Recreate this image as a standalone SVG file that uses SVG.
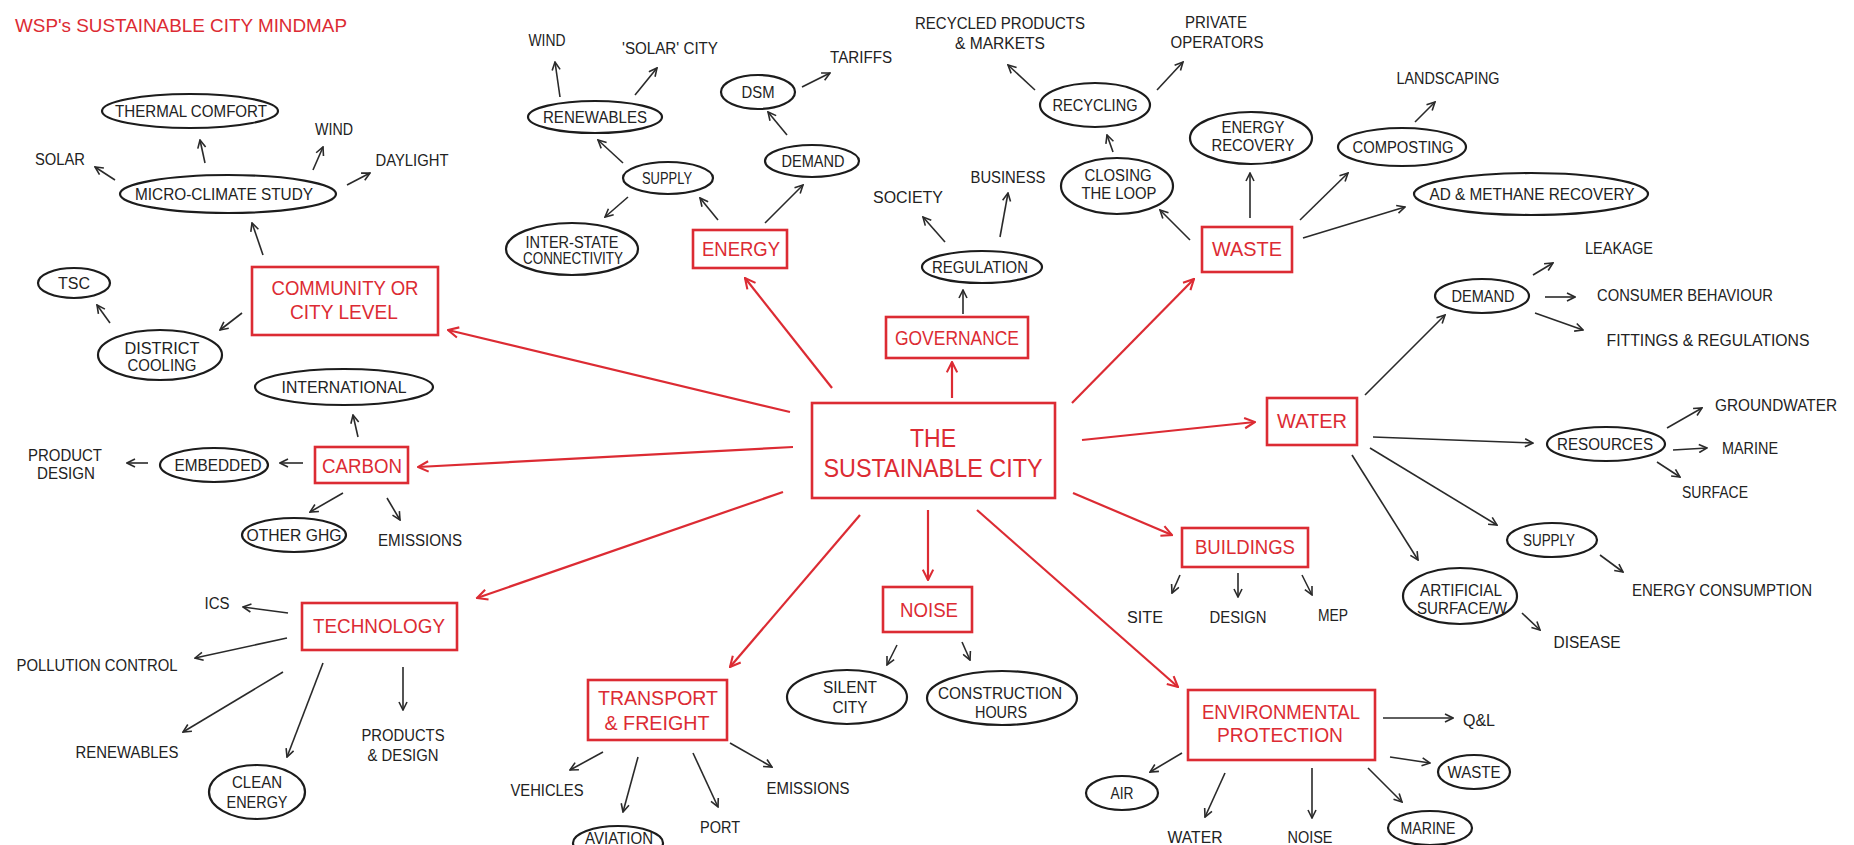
<svg xmlns="http://www.w3.org/2000/svg" width="1854" height="845" viewBox="0 0 1854 845">
<defs>
<style>
.t{font-family:"Liberation Sans",Arial,sans-serif;font-size:16px;fill:#222;text-anchor:middle}
.rt{font-family:"Liberation Sans",Arial,sans-serif;font-size:20px;fill:#dc2b33;text-anchor:middle}
.e{fill:none;stroke:#1c1c1c;stroke-width:2.2}
.b{fill:none;stroke:#dc2b33;stroke-width:2.6}
.k line{stroke:#2a2a2a;stroke-width:1.6;marker-end:url(#ak)}
.r line{stroke:#dc2b33;stroke-width:2.2;marker-end:url(#ar)}
</style>
<marker id="ak" viewBox="0 0 10 10" refX="9" refY="5" markerWidth="10" markerHeight="10" markerUnits="userSpaceOnUse" orient="auto"><path d="M1,1 L9,5 L1,9" fill="none" stroke="#2a2a2a" stroke-width="1.6"/></marker>
<marker id="ar" viewBox="0 0 10 10" refX="9" refY="5" markerWidth="13" markerHeight="13" markerUnits="userSpaceOnUse" orient="auto"><path d="M1,1 L9,5 L1,9" fill="none" stroke="#dc2b33" stroke-width="1.6"/></marker>
</defs>
<rect width="1854" height="845" fill="#fff"/>
<text x="15" y="32" style="font-family:'Liberation Sans',Arial,sans-serif;font-size:18px;fill:#dc2b33" textLength="332" lengthAdjust="spacingAndGlyphs">WSP's SUSTAINABLE CITY MINDMAP</text>

<g id="connectors">
<g class="k">
<line x1="263" y1="255" x2="252" y2="223"/>
<line x1="205" y1="163" x2="200" y2="140"/>
<line x1="115" y1="180" x2="95" y2="167"/>
<line x1="313" y1="170" x2="323" y2="147"/>
<line x1="347" y1="185" x2="370" y2="173"/>
<line x1="242" y1="313" x2="220" y2="330"/>
<line x1="110" y1="323" x2="97" y2="305"/>
<line x1="358" y1="437" x2="353" y2="415"/>
<line x1="303" y1="463" x2="280" y2="463"/>
<line x1="148" y1="463" x2="127" y2="463"/>
<line x1="343" y1="493" x2="310" y2="512"/>
<line x1="387" y1="498" x2="400" y2="520"/>
<line x1="288" y1="613" x2="243" y2="607"/>
<line x1="287" y1="638" x2="195" y2="658"/>
<line x1="283" y1="672" x2="183" y2="732"/>
<line x1="323" y1="663" x2="287" y2="757"/>
<line x1="403" y1="667" x2="403" y2="710"/>
<line x1="718" y1="220" x2="700" y2="198"/>
<line x1="765" y1="223" x2="803" y2="185"/>
<line x1="623" y1="163" x2="598" y2="140"/>
<line x1="628" y1="197" x2="605" y2="217"/>
<line x1="560" y1="97" x2="555" y2="62"/>
<line x1="635" y1="95" x2="657" y2="68"/>
<line x1="787" y1="135" x2="768" y2="112"/>
<line x1="802" y1="87" x2="830" y2="73"/>
<line x1="963" y1="314" x2="963" y2="290"/>
<line x1="945" y1="242" x2="923" y2="217"/>
<line x1="1000" y1="237" x2="1008" y2="193"/>
<line x1="1190" y1="240" x2="1160" y2="210"/>
<line x1="1113" y1="152" x2="1107" y2="135"/>
<line x1="1035" y1="90" x2="1008" y2="65"/>
<line x1="1157" y1="90" x2="1183" y2="62"/>
<line x1="1250" y1="218" x2="1250" y2="173"/>
<line x1="1300" y1="220" x2="1348" y2="173"/>
<line x1="1415" y1="122" x2="1435" y2="102"/>
<line x1="1303" y1="238" x2="1405" y2="207"/>
<line x1="1365" y1="395" x2="1445" y2="315"/>
<line x1="1373" y1="437" x2="1533" y2="443"/>
<line x1="1370" y1="448" x2="1497" y2="525"/>
<line x1="1352" y1="455" x2="1418" y2="560"/>
<line x1="1533" y1="275" x2="1553" y2="263"/>
<line x1="1545" y1="297" x2="1575" y2="297"/>
<line x1="1535" y1="313" x2="1583" y2="330"/>
<line x1="1667" y1="428" x2="1702" y2="408"/>
<line x1="1673" y1="450" x2="1707" y2="448"/>
<line x1="1657" y1="462" x2="1680" y2="477"/>
<line x1="1600" y1="555" x2="1623" y2="572"/>
<line x1="1522" y1="613" x2="1540" y2="630"/>
<line x1="1180" y1="575" x2="1172" y2="593"/>
<line x1="1238" y1="573" x2="1238" y2="597"/>
<line x1="1302" y1="575" x2="1312" y2="595"/>
<line x1="897" y1="645" x2="887" y2="665"/>
<line x1="962" y1="642" x2="970" y2="660"/>
<line x1="603" y1="752" x2="570" y2="770"/>
<line x1="638" y1="757" x2="623" y2="812"/>
<line x1="693" y1="753" x2="718" y2="807"/>
<line x1="730" y1="743" x2="772" y2="767"/>
<line x1="1182" y1="753" x2="1150" y2="772"/>
<line x1="1225" y1="773" x2="1205" y2="817"/>
<line x1="1312" y1="768" x2="1312" y2="818"/>
<line x1="1368" y1="768" x2="1402" y2="802"/>
<line x1="1383" y1="718" x2="1453" y2="718"/>
<line x1="1390" y1="757" x2="1430" y2="763"/>
</g>
<g class="r">
<line x1="790" y1="412" x2="448" y2="330"/>
<line x1="793" y1="447" x2="418" y2="467"/>
<line x1="783" y1="492" x2="477" y2="598"/>
<line x1="832" y1="388" x2="745" y2="278"/>
<line x1="952" y1="398" x2="952" y2="362"/>
<line x1="1072" y1="403" x2="1194" y2="279"/>
<line x1="1082" y1="440" x2="1255" y2="422"/>
<line x1="1073" y1="493" x2="1172" y2="535"/>
<line x1="977" y1="510" x2="1178" y2="687"/>
<line x1="928" y1="510" x2="928" y2="580"/>
<line x1="860" y1="515" x2="730" y2="667"/>
</g>
</g>

<g id="center"><rect class="b" x="812" y="403" width="243" height="95"/><text class="rt" style="font-size:25px" x="933" y="447" textLength="46" lengthAdjust="spacingAndGlyphs">THE</text><text class="rt" style="font-size:25px" x="933" y="477" textLength="219" lengthAdjust="spacingAndGlyphs">SUSTAINABLE CITY</text></g>

<g id="community"><rect class="b" x="252" y="267" width="186" height="68"/><text class="rt" x="345" y="295" textLength="147" lengthAdjust="spacingAndGlyphs">COMMUNITY OR</text><text class="rt" x="344" y="319" textLength="108" lengthAdjust="spacingAndGlyphs">CITY LEVEL</text></g>
<g id="thermal"><ellipse class="e" cx="190" cy="111" rx="88" ry="17"/><text class="t" x="191" y="117" textLength="152" lengthAdjust="spacingAndGlyphs">THERMAL COMFORT</text></g>
<g id="micro"><ellipse class="e" cx="228" cy="194" rx="108" ry="19"/><text class="t" x="224" y="200" textLength="178" lengthAdjust="spacingAndGlyphs">MICRO-CLIMATE STUDY</text></g>
<g id="solar"><text class="t" x="60" y="165" textLength="50" lengthAdjust="spacingAndGlyphs">SOLAR</text></g>
<g id="wind1"><text class="t" x="334" y="135" textLength="38" lengthAdjust="spacingAndGlyphs">WIND</text></g>
<g id="daylight"><text class="t" x="412" y="166" textLength="73" lengthAdjust="spacingAndGlyphs">DAYLIGHT</text></g>
<g id="tsc"><ellipse class="e" cx="74" cy="283" rx="36" ry="15"/><text class="t" x="74" y="289" textLength="32" lengthAdjust="spacingAndGlyphs">TSC</text></g>
<g id="district"><ellipse class="e" cx="160" cy="355" rx="62" ry="25"/><text class="t" x="162" y="354" textLength="75" lengthAdjust="spacingAndGlyphs">DISTRICT</text><text class="t" x="162" y="371" textLength="69" lengthAdjust="spacingAndGlyphs">COOLING</text></g>

<g id="carbon"><rect class="b" x="315" y="447" width="93" height="36"/><text class="rt" x="362" y="473" textLength="80" lengthAdjust="spacingAndGlyphs">CARBON</text></g>
<g id="international"><ellipse class="e" cx="344" cy="387" rx="89" ry="18"/><text class="t" x="344" y="393" textLength="125" lengthAdjust="spacingAndGlyphs">INTERNATIONAL</text></g>
<g id="embedded"><ellipse class="e" cx="214" cy="465" rx="54" ry="17"/><text class="t" x="218" y="471" textLength="87" lengthAdjust="spacingAndGlyphs">EMBEDDED</text></g>
<g id="productdesign"><text class="t" x="65" y="461" textLength="74" lengthAdjust="spacingAndGlyphs">PRODUCT</text><text class="t" x="66" y="479" textLength="58" lengthAdjust="spacingAndGlyphs">DESIGN</text></g>
<g id="otherghg"><ellipse class="e" cx="294" cy="535" rx="52" ry="17"/><text class="t" x="294" y="541" textLength="95" lengthAdjust="spacingAndGlyphs">OTHER GHG</text></g>
<g id="emissions1"><text class="t" x="420" y="546" textLength="84" lengthAdjust="spacingAndGlyphs">EMISSIONS</text></g>

<g id="technology"><rect class="b" x="302" y="603" width="155" height="47"/><text class="rt" x="379" y="633" textLength="132" lengthAdjust="spacingAndGlyphs">TECHNOLOGY</text></g>
<g id="ics"><text class="t" x="217" y="609" textLength="25" lengthAdjust="spacingAndGlyphs">ICS</text></g>
<g id="pollution"><text class="t" x="97" y="671" textLength="161" lengthAdjust="spacingAndGlyphs">POLLUTION CONTROL</text></g>
<g id="renewables2"><text class="t" x="127" y="758" textLength="103" lengthAdjust="spacingAndGlyphs">RENEWABLES</text></g>
<g id="cleanenergy"><ellipse class="e" cx="257" cy="792" rx="48" ry="27"/><text class="t" x="257" y="788" textLength="50" lengthAdjust="spacingAndGlyphs">CLEAN</text><text class="t" x="257" y="808" textLength="61" lengthAdjust="spacingAndGlyphs">ENERGY</text></g>
<g id="productsdesign"><text class="t" x="403" y="741" textLength="83" lengthAdjust="spacingAndGlyphs">PRODUCTS</text><text class="t" x="403" y="761" textLength="71" lengthAdjust="spacingAndGlyphs">&amp; DESIGN</text></g>

<g id="energy"><rect class="b" x="693" y="230" width="94" height="38"/><text class="rt" x="741" y="256" textLength="78" lengthAdjust="spacingAndGlyphs">ENERGY</text></g>
<g id="supply1"><ellipse class="e" cx="668" cy="178" rx="45" ry="16"/><text class="t" x="667" y="184" textLength="50" lengthAdjust="spacingAndGlyphs">SUPPLY</text></g>
<g id="demand1"><ellipse class="e" cx="812" cy="161" rx="47" ry="16"/><text class="t" x="813" y="167" textLength="63" lengthAdjust="spacingAndGlyphs">DEMAND</text></g>
<g id="renewables1"><ellipse class="e" cx="595" cy="117" rx="67" ry="16"/><text class="t" x="595" y="123" textLength="104" lengthAdjust="spacingAndGlyphs">RENEWABLES</text></g>
<g id="interstate"><ellipse class="e" cx="572" cy="249" rx="66" ry="26"/><text class="t" x="572" y="248" textLength="93" lengthAdjust="spacingAndGlyphs">INTER-STATE</text><text class="t" x="573" y="264" textLength="100" lengthAdjust="spacingAndGlyphs">CONNECTIVITY</text></g>
<g id="wind2"><text class="t" x="547" y="46" textLength="37" lengthAdjust="spacingAndGlyphs">WIND</text></g>
<g id="solarcity"><text class="t" x="670" y="54" textLength="96" lengthAdjust="spacingAndGlyphs">'SOLAR' CITY</text></g>
<g id="dsm"><ellipse class="e" cx="758" cy="92" rx="37" ry="17"/><text class="t" x="758" y="98" textLength="33" lengthAdjust="spacingAndGlyphs">DSM</text></g>
<g id="tariffs"><text class="t" x="861" y="63" textLength="62" lengthAdjust="spacingAndGlyphs">TARIFFS</text></g>

<g id="governance"><rect class="b" x="886" y="317" width="142" height="41"/><text class="rt" x="957" y="345" textLength="124" lengthAdjust="spacingAndGlyphs">GOVERNANCE</text></g>
<g id="regulation"><ellipse class="e" cx="982" cy="267" rx="60" ry="16"/><text class="t" x="980" y="273" textLength="96" lengthAdjust="spacingAndGlyphs">REGULATION</text></g>
<g id="society"><text class="t" x="908" y="203" textLength="70" lengthAdjust="spacingAndGlyphs">SOCIETY</text></g>
<g id="business"><text class="t" x="1008" y="183" textLength="75" lengthAdjust="spacingAndGlyphs">BUSINESS</text></g>

<g id="waste"><rect class="b" x="1202" y="227" width="90" height="45"/><text class="rt" x="1247" y="256" textLength="70" lengthAdjust="spacingAndGlyphs">WASTE</text></g>
<g id="closingloop"><ellipse class="e" cx="1117" cy="186" rx="56" ry="28"/><text class="t" x="1118" y="181" textLength="67" lengthAdjust="spacingAndGlyphs">CLOSING</text><text class="t" x="1119" y="199" textLength="75" lengthAdjust="spacingAndGlyphs">THE LOOP</text></g>
<g id="recycling"><ellipse class="e" cx="1095" cy="105" rx="55" ry="22"/><text class="t" x="1095" y="111" textLength="85" lengthAdjust="spacingAndGlyphs">RECYCLING</text></g>
<g id="recycledproducts"><text class="t" x="1000" y="29" textLength="170" lengthAdjust="spacingAndGlyphs">RECYCLED PRODUCTS</text><text class="t" x="1000" y="49" textLength="90" lengthAdjust="spacingAndGlyphs">&amp; MARKETS</text></g>
<g id="privateops"><text class="t" x="1216" y="28" textLength="62" lengthAdjust="spacingAndGlyphs">PRIVATE</text><text class="t" x="1217" y="48" textLength="93" lengthAdjust="spacingAndGlyphs">OPERATORS</text></g>
<g id="energyrecovery"><ellipse class="e" cx="1251" cy="138" rx="61" ry="26"/><text class="t" x="1253" y="133" textLength="63" lengthAdjust="spacingAndGlyphs">ENERGY</text><text class="t" x="1253" y="151" textLength="83" lengthAdjust="spacingAndGlyphs">RECOVERY</text></g>
<g id="composting"><ellipse class="e" cx="1402" cy="147" rx="64" ry="19"/><text class="t" x="1403" y="153" textLength="101" lengthAdjust="spacingAndGlyphs">COMPOSTING</text></g>
<g id="landscaping"><text class="t" x="1448" y="84" textLength="103" lengthAdjust="spacingAndGlyphs">LANDSCAPING</text></g>
<g id="admethane"><ellipse class="e" cx="1531" cy="194" rx="117" ry="21"/><text class="t" x="1532" y="200" textLength="205" lengthAdjust="spacingAndGlyphs">AD &amp; METHANE RECOVERY</text></g>

<g id="water"><rect class="b" x="1267" y="398" width="90" height="47"/><text class="rt" x="1312" y="428" textLength="70" lengthAdjust="spacingAndGlyphs">WATER</text></g>
<g id="demand2"><ellipse class="e" cx="1482" cy="296" rx="47" ry="17"/><text class="t" x="1483" y="302" textLength="63" lengthAdjust="spacingAndGlyphs">DEMAND</text></g>
<g id="leakage"><text class="t" x="1619" y="254" textLength="68" lengthAdjust="spacingAndGlyphs">LEAKAGE</text></g>
<g id="consumer"><text class="t" x="1685" y="301" textLength="176" lengthAdjust="spacingAndGlyphs">CONSUMER BEHAVIOUR</text></g>
<g id="fittings"><text class="t" x="1708" y="346" textLength="203" lengthAdjust="spacingAndGlyphs">FITTINGS &amp; REGULATIONS</text></g>
<g id="resources"><ellipse class="e" cx="1606" cy="444" rx="59" ry="17"/><text class="t" x="1605" y="450" textLength="96" lengthAdjust="spacingAndGlyphs">RESOURCES</text></g>
<g id="groundwater"><text class="t" x="1776" y="411" textLength="122" lengthAdjust="spacingAndGlyphs">GROUNDWATER</text></g>
<g id="marine1"><text class="t" x="1750" y="454" textLength="56" lengthAdjust="spacingAndGlyphs">MARINE</text></g>
<g id="surface"><text class="t" x="1715" y="498" textLength="66" lengthAdjust="spacingAndGlyphs">SURFACE</text></g>
<g id="supply2"><ellipse class="e" cx="1552" cy="540" rx="45" ry="17"/><text class="t" x="1549" y="546" textLength="52" lengthAdjust="spacingAndGlyphs">SUPPLY</text></g>
<g id="energyconsumption"><text class="t" x="1722" y="596" textLength="180" lengthAdjust="spacingAndGlyphs">ENERGY CONSUMPTION</text></g>
<g id="artificial"><ellipse class="e" cx="1460" cy="596" rx="57" ry="28"/><text class="t" x="1461" y="596" textLength="82" lengthAdjust="spacingAndGlyphs">ARTIFICIAL</text><text class="t" x="1462" y="614" textLength="90" lengthAdjust="spacingAndGlyphs">SURFACE/W</text></g>
<g id="disease"><text class="t" x="1587" y="648" textLength="67" lengthAdjust="spacingAndGlyphs">DISEASE</text></g>

<g id="buildings"><rect class="b" x="1182" y="528" width="126" height="39"/><text class="rt" x="1245" y="554" textLength="100" lengthAdjust="spacingAndGlyphs">BUILDINGS</text></g>
<g id="site"><text class="t" x="1145" y="623" textLength="36" lengthAdjust="spacingAndGlyphs">SITE</text></g>
<g id="design"><text class="t" x="1238" y="623" textLength="57" lengthAdjust="spacingAndGlyphs">DESIGN</text></g>
<g id="mep"><text class="t" x="1333" y="621" textLength="30" lengthAdjust="spacingAndGlyphs">MEP</text></g>

<g id="noise"><rect class="b" x="883" y="587" width="89" height="45"/><text class="rt" x="929" y="617" textLength="58" lengthAdjust="spacingAndGlyphs">NOISE</text></g>
<g id="silentcity"><ellipse class="e" cx="847" cy="697" rx="60" ry="27"/><text class="t" x="850" y="693" textLength="54" lengthAdjust="spacingAndGlyphs">SILENT</text><text class="t" x="850" y="713" textLength="35" lengthAdjust="spacingAndGlyphs">CITY</text></g>
<g id="construction"><ellipse class="e" cx="1002" cy="698" rx="75" ry="27"/><text class="t" x="1000" y="699" textLength="124" lengthAdjust="spacingAndGlyphs">CONSTRUCTION</text><text class="t" x="1001" y="718" textLength="52" lengthAdjust="spacingAndGlyphs">HOURS</text></g>

<g id="transport"><rect class="b" x="588" y="680" width="139" height="60"/><text class="rt" x="658" y="705" textLength="120" lengthAdjust="spacingAndGlyphs">TRANSPORT</text><text class="rt" x="657" y="730" textLength="105" lengthAdjust="spacingAndGlyphs">&amp; FREIGHT</text></g>
<g id="vehicles"><text class="t" x="547" y="796" textLength="73" lengthAdjust="spacingAndGlyphs">VEHICLES</text></g>
<g id="aviation"><ellipse class="e" cx="618" cy="843" rx="45" ry="17"/><text class="t" x="619" y="844" textLength="68" lengthAdjust="spacingAndGlyphs">AVIATION</text></g>
<g id="port"><text class="t" x="720" y="833" textLength="40" lengthAdjust="spacingAndGlyphs">PORT</text></g>
<g id="emissions2"><text class="t" x="808" y="794" textLength="83" lengthAdjust="spacingAndGlyphs">EMISSIONS</text></g>

<g id="envprotection"><rect class="b" x="1188" y="690" width="187" height="70"/><text class="rt" x="1281" y="719" textLength="158" lengthAdjust="spacingAndGlyphs">ENVIRONMENTAL</text><text class="rt" x="1280" y="742" textLength="126" lengthAdjust="spacingAndGlyphs">PROTECTION</text></g>
<g id="air"><ellipse class="e" cx="1122" cy="793" rx="36" ry="17"/><text class="t" x="1122" y="799" textLength="23" lengthAdjust="spacingAndGlyphs">AIR</text></g>
<g id="water2"><text class="t" x="1195" y="843" textLength="55" lengthAdjust="spacingAndGlyphs">WATER</text></g>
<g id="noise2"><text class="t" x="1310" y="843" textLength="45" lengthAdjust="spacingAndGlyphs">NOISE</text></g>
<g id="marine2"><ellipse class="e" cx="1430" cy="828" rx="42" ry="17"/><text class="t" x="1428" y="834" textLength="55" lengthAdjust="spacingAndGlyphs">MARINE</text></g>
<g id="ql"><text class="t" x="1479" y="726" textLength="32" lengthAdjust="spacingAndGlyphs">Q&amp;L</text></g>
<g id="waste2"><ellipse class="e" cx="1474" cy="772" rx="36" ry="17"/><text class="t" x="1474" y="778" textLength="53" lengthAdjust="spacingAndGlyphs">WASTE</text></g>
</svg>
